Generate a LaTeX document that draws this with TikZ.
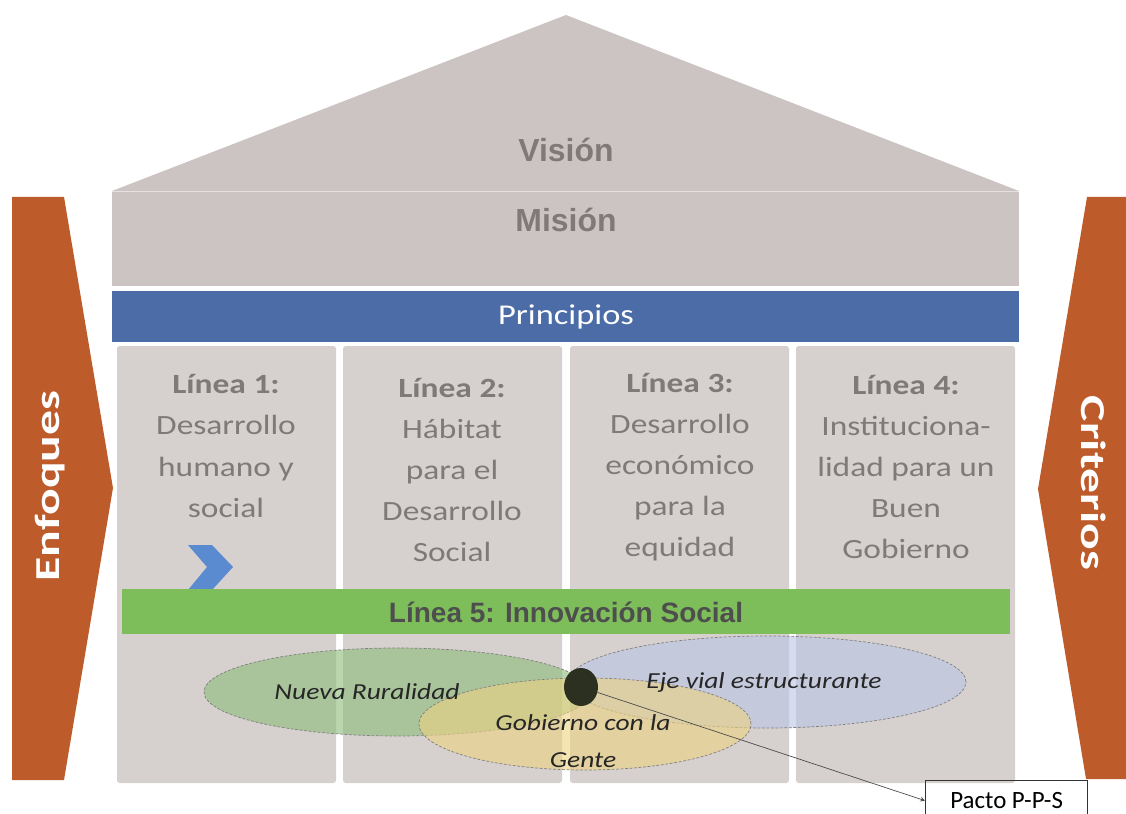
\documentclass[tikz,border=0pt]{standalone}
\usepackage{fontspec}
\setmainfont{Carlito}[FakeStretch=1.2]
\newfontfamily\arialfont{Liberation Sans}
\newfontfamily\plainfont{Carlito}
\usepackage{graphicx}
\usetikzlibrary{shapes.geometric,positioning}

\definecolor{roofgray}{RGB}{203,196,194}
\definecolor{colgray}{RGB}{214,209,207}
\definecolor{princblue}{RGB}{75,108,166}
\definecolor{lineagreen}{RGB}{125,190,90}
\definecolor{enforange}{RGB}{189,91,43}
\definecolor{txtgray}{RGB}{127,121,121}
\definecolor{darktxt}{RGB}{78,78,78}
\definecolor{chevblue}{RGB}{90,138,208}
\definecolor{ellgreen}{RGB}{140,187,120}
\definecolor{ellblue}{RGB}{186,196,229}
\definecolor{ellyellow}{RGB}{237,211,129}
\definecolor{dotcol}{RGB}{43,48,32}

\newcommand\pxu{0.025cm}
\newcommand\fsz[2]{\fontsize{#1}{#2}\selectfont}

\tikzset{
  coltext/.style={text=txtgray, align=center, font=\fsz{19.8pt}{29.2pt}},
  bigtitle/.style={text=txtgray, font=\arialfont\bfseries\fsz{22.7pt}{26pt}},
  sidetext/.style={text=white, font=\plainfont\bfseries\fsz{24.9pt}{28pt}},
  bubble/.style={ellipse, draw=black!50, dash pattern=on 2pt off 1.2pt, line width=0.5pt, fill opacity=0.6, inner sep=0pt},
  bubbletext/.style={font=\itshape\fsz{16.3pt}{26.3pt}, text=black!85, align=center},
}

\begin{document}
\begin{tikzpicture}[x=\pxu, y=-\pxu]
    \useasboundingbox (0,0) rectangle (1126,814);
    \clip (0,0) rectangle (1126,814);

    % Roof: vision and mision
    \fill[roofgray] (112,191) -- (566,15) -- (1019,191) -- cycle;
    \fill[roofgray] (112,191) rectangle (1019,286);
    \draw[roofgray!50!white, line width=0.6pt] (112,191) -- (1019,191);
    \node[bigtitle] (vision) at (566,150) {Visión};
    \node[bigtitle] (mision) at (566,220) {Misión};

    % Principios
    \fill[princblue] (112,291) rectangle (1019,342);
    \node[text=white, font=\fsz{20.4pt}{24pt}] (principios) at (566,317) {Principios};

    % Columns
    \foreach \xa in {117, 343, 570, 796}
        \fill[colgray, rounded corners=2pt] (\xa,346) rectangle ++(219,437);

    \node[coltext] (linea1) at (226,446) {\textbf{Línea 1:}\\Desarrollo\\humano y\\social};
    \node[coltext] (linea2) at (452,470) {\textbf{Línea 2:}\\Hábitat\\para el\\Desarrollo\\Social};
    \node[coltext] (linea3) at (680,467) {\textbf{Línea 3:}\\Desarrollo\\económico\\para la\\equidad};
    \node[coltext] (linea4) at (906,467) {\textbf{Línea 4:}\\Instituciona-\\lidad para un\\Buen\\Gobierno};

    % Chevron
    \fill[chevblue] (188,545) -- (212,545) -- (233,567) -- (212,590) -- (188,590) -- (207,567) -- cycle;

    % Linea 5
    \fill[lineagreen] (122,589) rectangle (1010,634);
    \node[text=darktxt, font=\arialfont\bfseries\fsz{19.9pt}{22pt}] (linea5) at (566,612) {Línea 5: Innovación Social};

    % Side arrows
    \fill[enforange] (12,197) -- (64,197) -- (113,488) -- (64,780) -- (12,780) -- cycle;
    \fill[enforange] (1126,197) -- (1087,197) -- (1038,489) -- (1086,779) -- (1126,779) -- cycle;
    \node[sidetext, rotate=90] (enfoques) at (50,486) {\scalebox{1.42}[1]{Enfoques}};
    \node[sidetext, rotate=-90] (criterios) at (1094,483) {\scalebox{1.42}[1]{Criterios}};

    % Ellipses
    \node[bubble, fill=ellgreen, minimum width=386*\pxu, minimum height=88*\pxu] (rural) at (397,692) {};
    \node[bubble, fill=ellblue, minimum width=398*\pxu, minimum height=92*\pxu] (vial) at (767,682) {};
    \node[bubble, fill=ellyellow, minimum width=332*\pxu, minimum height=92*\pxu] (gobierno) at (585,724) {};

    \node[bubbletext] (ruraltxt) at (367,692) {Nueva Ruralidad};
    \node[bubbletext] (vialtxt) at (764,683) {Eje vial estructurante};
    \node[bubbletext] (gobtxt) at (583,741) {Gobierno con la\\Gente};

    \node[ellipse, fill=dotcol, minimum width=34*\pxu, minimum height=38*\pxu, inner sep=0pt] (nucleo) at (581,687) {};

    % Pacto
    \node[draw=black!80, line width=0.9pt, anchor=north west, minimum width=162*\pxu, minimum height=40*\pxu,
          inner sep=0pt, font=\plainfont\fsz{17.7pt}{20pt}] (pacto) at (925,780) {Pacto P-P-S};
    \draw[-stealth, black!70, line width=0.5pt] (nucleo) -- (pacto.west);
\end{tikzpicture}
\end{document}
